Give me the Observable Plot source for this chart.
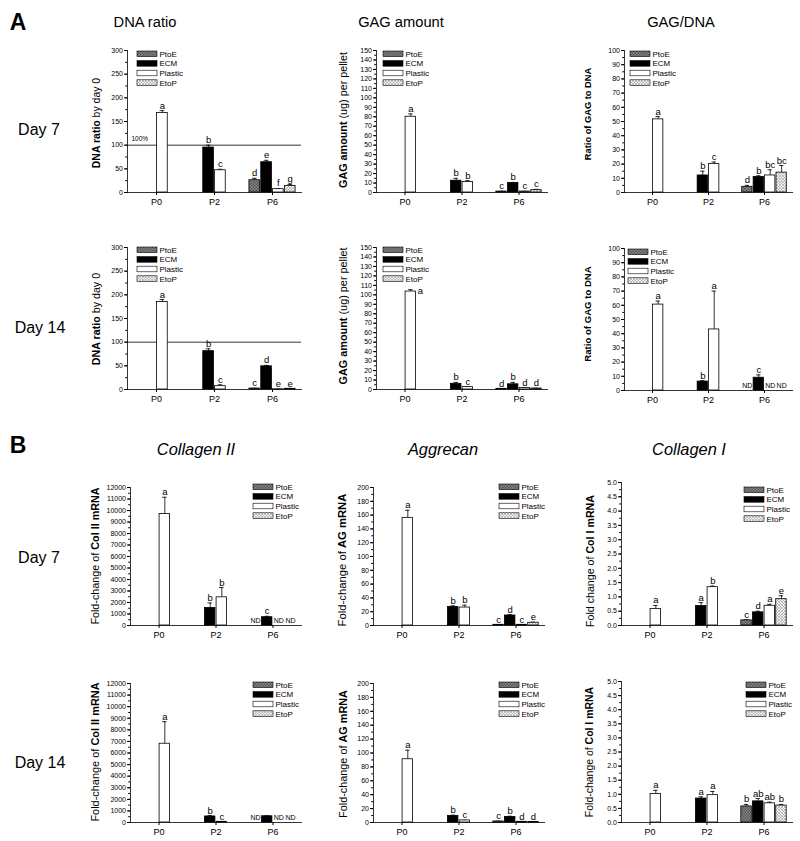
<!DOCTYPE html>
<html><head><meta charset="utf-8">
<script src="https://cdn.jsdelivr.net/npm/d3@7"></script>
<script src="https://cdn.jsdelivr.net/npm/@observablehq/plot@0.6"></script>
<style>
body{margin:0;background:#fff;}
#root{position:relative;width:800px;height:841px;overflow:hidden;font-family:"Liberation Sans",Arial,Helvetica,sans-serif;color:#000;background:#fff;}
.lbl{position:absolute;white-space:nowrap;transform:translate(-50%,-50%);line-height:1;}
.rot{transform:translate(-50%,-50%) rotate(-90deg);}
.panel{position:absolute;}
</style></head><body>
<svg width="0" height="0" style="position:absolute">
<defs>
<pattern id="pPtoE" width="3" height="3" patternUnits="userSpaceOnUse">
<rect width="3" height="3" fill="#8c8c8c"/><rect width="1.5" height="1.5" fill="#505050"/><rect x="1.5" y="1.5" width="1.5" height="1.5" fill="#505050"/>
</pattern>
<pattern id="pEtoP" width="3" height="3" patternUnits="userSpaceOnUse">
<rect width="3" height="3" fill="#f4f4f4"/><path d="M0,0L3,3M3,0L0,3" stroke="#9a9a9a" stroke-width="0.6"/>
</pattern>
</defs></svg>
<div id="root"></div>
<script>
const passages = ["P0", "P2", "P6"];
const groups = ["PtoE", "ECM", "Plastic", "EtoP"];
const groupFills = ["url(#pPtoE)", "#000", "#fff", "url(#pEtoP)"];
const _ = null;

// rows = passages P0, P2, P6 ; columns = PtoE, ECM, Plastic, EtoP
// A, Day 7
const dna7Mean = [[_,_,168,_],[_,95,47,_],[26,64,7,14]];
const dna7Err  = [[_,_,5,_],[_,5,2,_],[4,4,1.5,3]];
const dna7Sig  = [["","","a",""],["","b","c",""],["d","e","f","g"]];
const gag7Mean = [[_,_,80,_],[_,12.5,11,_],[1,10,1,2.5]];
const gag7Err  = [[_,_,3,_],[_,2.5,1.5,_],[0.3,0.6,0.3,0.8]];
const gag7Sig  = [["","","a",""],["","b","b",""],["c","b","c","c"]];
const rat7Mean = [[_,_,51.5,_],[_,12,20,_],[4,11,12,14]];
const rat7Err  = [[_,_,2,_],[_,3,1.5,_],[1,0.8,4,5]];
const rat7Sig  = [["","","a",""],["","b","c",""],["d","b","bc","bc"]];
// A, Day 14
const dna14Mean = [[_,_,185,_],[_,81,7,_],[2,49,0.5,1.5]];
const dna14Err  = [[_,_,5,_],[_,5,3,_],[0.5,2,0.3,0.5]];
const dna14Sig  = [["","","a",""],["","b","c",""],["c","d","e","e"]];
const gag14Mean = [[_,_,103.5,_],[_,6,2.5,_],[0.7,5.5,1.5,1]];
const gag14Err  = [[_,_,2,_],[_,1.5,0.4,_],[0.2,2,0.4,0.3]];
const gag14Sig  = [["","","a",""],["","b","c",""],["d","b","d","d"]];
const rat14Mean = [[_,_,60.5,_],[_,6.3,43,_],[_,9,_,_]];
const rat14Err  = [[_,_,2.5,_],[_,0.6,27,_],[_,2,_,_]];
const rat14Sig  = [["","","a",""],["","b","a",""],["ND","c","ND","ND"]];
// B, Day 7
const col2d7Mean = [[_,_,9700,_],[_,1530,2450,_],[_,720,_,_]];
const col2d7Err  = [[_,_,1450,_],[_,430,850,_],[_,80,_,_]];
const col2d7Sig  = [["","","a",""],["","b","b",""],["ND","c","ND","ND"]];
const ag7Mean = [[_,_,156,_],[_,27,26,_],[1,14.5,1,4]];
const ag7Err  = [[_,_,11,_],[_,1.5,3.5,_],[0.3,1.2,0.3,0.8]];
const ag7Sig  = [["","","a",""],["","b","b",""],["c","d","c","e"]];
const col1d7Mean = [[_,_,0.58,_],[_,0.68,1.34,_],[0.18,0.46,0.69,0.92]];
const col1d7Err  = [[_,_,0.12,_],[_,0.12,0.04,_],[0.02,0.04,0.05,0.12]];
const col1d7Sig  = [["","","a",""],["","a","b",""],["c","d","a","e"]];
// B, Day 14
const col2d14Mean = [[_,_,6800,_],[_,520,60,_],[_,540,_,_]];
const col2d14Err  = [[_,_,1900,_],[_,80,20,_],[_,40,_,_]];
const col2d14Sig  = [["","","a",""],["","b","c",""],["ND","","ND","ND"]];
const ag14Mean = [[_,_,91,_],[_,9.5,3,_],[1.5,8,1,0.8]];
const ag14Err  = [[_,_,13,_],[_,1,0.3,_],[0.3,1,0.2,0.2]];
const ag14Sig  = [["","","a",""],["","b","c",""],["c","b","d","d"]];
const col1d14Mean = [[_,_,1.01,_],[_,0.85,0.97,_],[0.57,0.75,0.68,0.60]];
const col1d14Err  = [[_,_,0.13,_],[_,0.06,0.13,_],[0.07,0.1,0.04,0.04]];
const col1d14Sig  = [["","","a",""],["","a","a",""],["b","ab","ab","b"]];

const root = document.getElementById("root");
function label(html, x, y, style, rot, target) {
  const d = document.createElement("div");
  d.className = "lbl" + (rot ? " rot" : "");
  d.setAttribute("style", `left:${x}px;top:${y}px;` + (style || ""));
  d.innerHTML = html;
  root.appendChild(d);
  if (target) {
    const fs = parseFloat(getComputedStyle(d).fontSize);
    d.style.fontSize = (fs * target / d.offsetWidth).toFixed(2) + "px";
  }
}

function table(mean, err, sig) {
  const rows = [];
  passages.forEach((p, i) => groups.forEach((g, j) => {
    const s = sig[i][j];
    if (mean[i][j] == null && !s) return;
    rows.push({passage: p, group: g, mean: mean[i][j], err: err[i][j] ?? 0, sig: s});
  }));
  return rows;
}

const range = (a, b, s) => d3.range(Math.round((b - a) / s) + 1).map(i => +(a + i * s).toFixed(4));

function panel(cfg) {
  const rows = table(cfg.mean, cfg.err, cfg.sig);
  const bars = rows.filter(d => d.mean != null);
  const nd = rows.filter(d => d.mean == null);
  const mL = 34, mR = 6, mT = 12, mB = 22;
  const W = cfg.r - cfg.l + mL + mR, H = cfg.b - cfg.t + mT + mB;
  const top = d => d.mean + d.err;
  const isRight = d => cfg.rightLabel && cfg.rightLabel.includes(d.passage + "|" + d.group);
  const marks = [
    Plot.axisY({ticks: range(cfg.domain[0], cfg.domain[1], cfg.major), tickSize: 3, tickPadding: 1.5, fontSize: 7, tickFormat: cfg.fmt, label: null}),
    Plot.axisY({ticks: range(cfg.domain[0], cfg.domain[1], cfg.major / 2), tickSize: 1.8, text: null, label: null}),
    Plot.axisFx({anchor: "bottom", tickSize: 3, tickPadding: 3, fontSize: 9, label: null}),
    Plot.frame({anchor: "left", facet: "super", strokeWidth: 0.8}),
    Plot.frame({anchor: "bottom", facet: "super", strokeWidth: 0.8}),
  ];
  if (cfg.ref != null) {
    marks.push(Plot.ruleY([cfg.ref], {strokeWidth: 0.8}));
    if (cfg.refText) marks.push(Plot.text([{passage: "P0"}], {fx: "passage", frameAnchor: "left", y: () => cfg.ref, text: () => cfg.refText, textAnchor: "start", dx: 4, dy: -6, fontSize: 6.5}));
  }
  marks.push(
    Plot.ruleX(bars.filter(d => d.err > 0), {fx: "passage", x: "group", y1: "mean", y2: top, strokeWidth: 0.8}),
    Plot.tickY(bars.filter(d => d.err > 0), {fx: "passage", x: "group", y: top, insetLeft: 3, insetRight: 3, strokeWidth: 0.8}),
    Plot.barY(bars, {fx: "passage", x: "group", y: "mean", fill: "group", stroke: "#000", strokeWidth: 0.8}),
    Plot.text(bars.filter(d => d.sig && !isRight(d)), {fx: "passage", x: "group", y: top, text: "sig", lineAnchor: "bottom", dy: -2, fontSize: 9.5}),
    Plot.text(bars.filter(d => d.sig && isRight(d)), {fx: "passage", x: "group", y: top, text: "sig", textAnchor: "start", dx: 7, dy: 1, fontSize: 9.5}),
    Plot.text(nd, {fx: "passage", x: "group", y: () => 0, text: "sig", lineAnchor: "bottom", dy: -3, fontSize: 7})
  );
  const svg = Plot.plot({
    width: W, height: H,
    marginLeft: mL, marginRight: mR, marginTop: mT, marginBottom: mB,
    fx: {domain: passages, padding: 0, label: null},
    x: {domain: groups, paddingInner: 0.1, paddingOuter: 0.5, axis: null, round: false},
    y: {domain: cfg.domain, label: null},
    color: {domain: groups, range: groupFills},
    style: {fontFamily: '"Liberation Sans", Arial, sans-serif', fontSize: "8px", background: "transparent", overflow: "visible", color: "#000"},
    marks
  });
  // legend
  const g = d3.select(svg).append("g").attr("transform", `translate(${mL + cfg.legX},${mT + cfg.legY})`);
  groups.forEach((name, i) => {
    g.append("rect").attr("x", 0).attr("y", i * 9.6).attr("width", 20).attr("height", 5.6)
      .attr("fill", groupFills[i]).attr("stroke", "#000").attr("stroke-width", 0.6);
    g.append("text").attr("x", 22.5).attr("y", i * 9.6 + 5.8).attr("font-size", 8).attr("text-anchor", "start").attr("fill", "#000").text(name);
  });
  const wrap = document.createElement("div");
  wrap.className = "panel";
  wrap.style.left = (cfg.l - mL) + "px";
  wrap.style.top = (cfg.t - mT) + "px";
  wrap.appendChild(svg);
  root.appendChild(wrap);
  label(cfg.ylabel, cfg.ylx, cfg.yly, "font-size:10px", true, cfg.ylen);
}

const f0 = d3.format("d"), f1 = d3.format(".1f");
const colA = [{l: 127, r: 301}, {l: 375, r: 548}, {l: 624, r: 792}];
const colB = [{l: 130, r: 301}, {l: 373, r: 544}, {l: 620, r: 792}];

// Row 1 — A Day 7
panel({...colA[0], t: 50, b: 192, domain: [0, 300], major: 50, fmt: f0, mean: dna7Mean, err: dna7Err, sig: dna7Sig, ref: 100, refText: "100%", legX: 10, legY: 1, ylabel: "<b>DNA ratio</b> by day 0", ylx: 97, yly: 123, ylen: 90});
panel({...colA[1], t: 50, b: 192, domain: [0, 150], major: 10, fmt: f0, mean: gag7Mean, err: gag7Err, sig: gag7Sig, legX: 8, legY: 1, ylabel: "<b>GAG amount</b> (ug) per pellet", ylx: 343, yly: 120, ylen: 136});
panel({...colA[2], t: 50, b: 192, domain: [0, 100], major: 10, fmt: f0, mean: rat7Mean, err: rat7Err, sig: rat7Sig, legX: 6, legY: 1, ylabel: "<b>Ratio of GAG to DNA</b>", ylx: 589, yly: 114, ylen: 92});
// Row 2 — A Day 14
panel({...colA[0], t: 247, b: 389, domain: [0, 300], major: 50, fmt: f0, mean: dna14Mean, err: dna14Err, sig: dna14Sig, ref: 100, legX: 10, legY: 0, ylabel: "<b>DNA ratio</b> by day 0", ylx: 96, yly: 319, ylen: 92});
panel({...colA[1], t: 247, b: 389, domain: [0, 150], major: 10, fmt: f0, mean: gag14Mean, err: gag14Err, sig: gag14Sig, rightLabel: ["P0|Plastic"], legX: 8, legY: 0, ylabel: "<b>GAG amount</b> (ug) per pellet", ylx: 343, yly: 316, ylen: 137});
panel({...colA[2], t: 248, b: 390, domain: [0, 100], major: 10, fmt: f0, mean: rat14Mean, err: rat14Err, sig: rat14Sig, legX: 4, legY: 1, ylabel: "<b>Ratio of GAG to DNA</b>", ylx: 588, yly: 314, ylen: 95});
// Row 3 — B Day 7
panel({...colB[0], t: 487, b: 625, domain: [0, 12000], major: 1000, fmt: f0, mean: col2d7Mean, err: col2d7Err, sig: col2d7Sig, legX: 123, legY: -3, ylabel: "Fold-change of <b>Col II mRNA</b>", ylx: 95, yly: 556, ylen: 137});
panel({...colB[1], t: 487, b: 625, domain: [0, 200], major: 20, fmt: f0, mean: ag7Mean, err: ag7Err, sig: ag7Sig, legX: 126, legY: -3, ylabel: "Fold-change of <b>AG mRNA</b>", ylx: 343, yly: 560, ylen: 133});
panel({...colB[2], t: 482, b: 625, domain: [0, 5], major: 0.5, fmt: f1, mean: col1d7Mean, err: col1d7Err, sig: col1d7Sig, legX: 124, legY: 5, ylabel: "Fold change of <b>Col I mRNA</b>", ylx: 590, yly: 561, ylen: 132});
// Row 4 — B Day 14
panel({...colB[0], t: 683, b: 822, domain: [0, 12000], major: 1000, fmt: f0, mean: col2d14Mean, err: col2d14Err, sig: col2d14Sig, legX: 123, legY: -1, ylabel: "Fold-change of <b>Col II mRNA</b>", ylx: 95, yly: 752, ylen: 139});
panel({...colB[1], t: 683, b: 822, domain: [0, 200], major: 20, fmt: f0, mean: ag14Mean, err: ag14Err, sig: ag14Sig, legX: 126, legY: -1, ylabel: "Fold-change of <b>AG mRNA</b>", ylx: 343, yly: 754, ylen: 128});
panel({...colB[2], t: 681, b: 822, domain: [0, 5], major: 0.5, fmt: f1, mean: col1d14Mean, err: col1d14Err, sig: col1d14Sig, legX: 126, legY: 1, ylabel: "Fold-change of <b>Col I mRNA</b>", ylx: 590, yly: 752, ylen: 131});

// Headings
label("A", 18, 22, "font-size:23px;font-weight:bold");
label("B", 18, 445, "font-size:23px;font-weight:bold");
label("DNA ratio", 145, 22, "font-size:14.7px");
label("GAG amount", 401, 22, "font-size:14.7px");
label("GAG/DNA", 681, 22, "font-size:14.7px");
label("Collagen II", 196, 449, "font-size:16.4px;font-style:italic");
label("Aggrecan", 443, 449, "font-size:16.4px;font-style:italic");
label("Collagen I", 689, 449, "font-size:16.4px;font-style:italic");
label("Day 7", 39, 130, "font-size:16px");
label("Day 14", 40, 328, "font-size:16px");
label("Day 7", 39, 558, "font-size:16px");
label("Day 14", 40, 763, "font-size:16px");
</script>
</body></html>
